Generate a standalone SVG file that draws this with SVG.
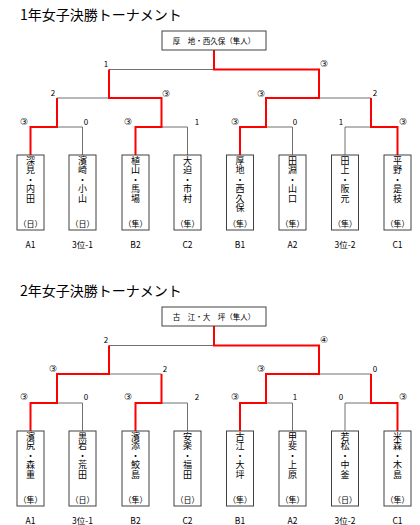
<svg xmlns="http://www.w3.org/2000/svg" width="420" height="525" viewBox="0 0 420 525">
<style>
.t{font-family:"Noto Sans CJK JP","Noto Sans CJK SC",sans-serif;fill:#000}
.title{font-size:14px}
.win{font-size:7.5px;text-anchor:middle}
.v{font-size:9px;writing-mode:vertical-rl;letter-spacing:0.5px}
.pr{font-size:8px;text-anchor:middle}
.sc{font-size:8px;text-anchor:middle}
.c{font-family:"DejaVu Sans","Noto Sans CJK JP",sans-serif;font-size:9px}
.lb{font-size:8.5px;text-anchor:middle}
.g{stroke:#707070;stroke-width:1;fill:none}
.r{stroke:#ff0000;stroke-width:2;fill:none}
.box{fill:#fff;stroke:#404040;stroke-width:1}
</style>
<rect width="420" height="525" fill="#fff"/>
<text class="t title" x="20" y="20">1年女子決勝トーナメント</text>
<text class="t title" x="20" y="296">2年女子決勝トーナメント</text>

<g id="connectors">
  <path class="g" d="M109,69.5H214M57,98H109M319,98H371M57,127H82.5M161.5,127H187.5M266,127H292.5M345,127H371M82.5,127V155M187.5,127V155M292.5,127V155M345,127V155"/>
  <path class="r" d="M214,50V69.5H319V98H266V127H240V155M109,69.5V98H161.5V127H135.5V155M57,98V127H30.5V155M371,98V127H397.5V155"/>
  <path class="g" d="M109,345.5H214M109,374H161.5M319,374H371M57,403H82.5M161.5,403H187.5M266,403H292.5M345,403H371M82.5,403V431M187.5,403V431M292.5,403V431M345,403V431"/>
  <path class="r" d="M214,326V345.5H319V374H266V403H240V431M109,345.5V374H57V403H30.5V431M161.5,374V403H135.5V431M371,374V403H397.5V431"/>
</g>

<g id="scores1">
  <text class="t sc" x="106" y="66.5">1</text>
  <text class="t sc c" x="324" y="67">③</text>
  <text class="t sc" x="53" y="96">2</text>
  <text class="t sc c" x="166" y="96.5">③</text>
  <text class="t sc c" x="261" y="96.5">③</text>
  <text class="t sc" x="375" y="96">2</text>
  <text class="t sc c" x="24" y="125">③</text>
  <text class="t sc" x="86" y="124.5">0</text>
  <text class="t sc c" x="128" y="125">③</text>
  <text class="t sc" x="197" y="124.5">1</text>
  <text class="t sc c" x="235" y="125">③</text>
  <text class="t sc" x="295" y="124.5">0</text>
  <text class="t sc" x="341" y="124.5">1</text>
  <text class="t sc c" x="403" y="125">③</text>
</g>
<g id="scores2">
  <text class="t sc" x="106" y="342.5">2</text>
  <text class="t sc c" x="324" y="343">④</text>
  <text class="t sc c" x="53" y="372">③</text>
  <text class="t sc" x="165" y="371.5">2</text>
  <text class="t sc c" x="261" y="372">③</text>
  <text class="t sc" x="375" y="371.5">0</text>
  <text class="t sc c" x="24" y="400">③</text>
  <text class="t sc" x="86" y="399.5">0</text>
  <text class="t sc c" x="128" y="400">③</text>
  <text class="t sc" x="197" y="399.5">2</text>
  <text class="t sc c" x="235" y="400">③</text>
  <text class="t sc" x="295" y="399.5">1</text>
  <text class="t sc" x="341" y="399.5">0</text>
  <text class="t sc c" x="403" y="400">③</text>
</g>

<g id="champion1">
  <rect class="box" x="162" y="31" width="104" height="19"/>
  <text class="t win" x="214" y="43.5">厚　地・西久保（隼人）</text>
</g>
<g id="champion2">
  <rect class="box" x="162" y="307" width="104" height="19"/>
  <text class="t win" x="214" y="319.5">古　江・大　坪（隼人）</text>
</g>

<g id="n1-A1">
  <rect class="box" x="17" y="155" width="27" height="75"/>
  <text class="t v" x="30.5" y="156">深見・内田</text>
  <text class="t pr" x="30.5" y="226.5">（日）</text>
  <text class="t lb" x="30.5" y="248">A1</text>
</g>
<g id="n1-31">
  <rect class="box" x="69" y="155" width="27" height="75"/>
  <text class="t v" x="82.5" y="156">濱崎・小山</text>
  <text class="t pr" x="82.5" y="226.5">（日）</text>
  <text class="t lb" x="82.5" y="248">3位-1</text>
</g>
<g id="n1-B2">
  <rect class="box" x="122" y="155" width="27" height="75"/>
  <text class="t v" x="135.5" y="156">植山・馬場</text>
  <text class="t pr" x="135.5" y="226.5">（隼）</text>
  <text class="t lb" x="135.5" y="248">B2</text>
</g>
<g id="n1-C2">
  <rect class="box" x="174" y="155" width="27" height="75"/>
  <text class="t v" x="187.5" y="156">大迫・市村</text>
  <text class="t pr" x="187.5" y="226.5">（隼）</text>
  <text class="t lb" x="187.5" y="248">C2</text>
</g>
<g id="n1-B1">
  <rect class="box" x="226.5" y="155" width="27" height="75"/>
  <text class="t v" x="240" y="156">厚地・西久保</text>
  <text class="t pr" x="240" y="226.5">（隼）</text>
  <text class="t lb" x="240" y="248">B1</text>
</g>
<g id="n1-A2">
  <rect class="box" x="279" y="155" width="27" height="75"/>
  <text class="t v" x="292.5" y="156">田淵・山口</text>
  <text class="t pr" x="292.5" y="226.5">（隼）</text>
  <text class="t lb" x="292.5" y="248">A2</text>
</g>
<g id="n1-32">
  <rect class="box" x="331.5" y="155" width="27" height="75"/>
  <text class="t v" x="345" y="156">田上・阪元</text>
  <text class="t pr" x="345" y="226.5">（隼）</text>
  <text class="t lb" x="345" y="248">3位-2</text>
</g>
<g id="n1-C1">
  <rect class="box" x="384" y="155" width="27" height="75"/>
  <text class="t v" x="397.5" y="156">平野・是枝</text>
  <text class="t pr" x="397.5" y="226.5">（隼）</text>
  <text class="t lb" x="397.5" y="248">C1</text>
</g>

<g id="n2-A1">
  <rect class="box" x="17" y="431" width="27" height="75"/>
  <text class="t v" x="30.5" y="432">濱尻・森重</text>
  <text class="t pr" x="30.5" y="502.5">（隼）</text>
  <text class="t lb" x="30.5" y="524">A1</text>
</g>
<g id="n2-31">
  <rect class="box" x="69" y="431" width="27" height="75"/>
  <text class="t v" x="82.5" y="432">黒岩・荒田</text>
  <text class="t pr" x="82.5" y="502.5">（日）</text>
  <text class="t lb" x="82.5" y="524">3位-1</text>
</g>
<g id="n2-B2">
  <rect class="box" x="122" y="431" width="27" height="75"/>
  <text class="t v" x="135.5" y="432">濱添・鮫島</text>
  <text class="t pr" x="135.5" y="502.5">（隼）</text>
  <text class="t lb" x="135.5" y="524">B2</text>
</g>
<g id="n2-C2">
  <rect class="box" x="174" y="431" width="27" height="75"/>
  <text class="t v" x="187.5" y="432">安楽・福田</text>
  <text class="t pr" x="187.5" y="502.5">（日）</text>
  <text class="t lb" x="187.5" y="524">C2</text>
</g>
<g id="n2-B1">
  <rect class="box" x="226.5" y="431" width="27" height="75"/>
  <text class="t v" x="240" y="432">古江・大坪</text>
  <text class="t pr" x="240" y="502.5">（隼）</text>
  <text class="t lb" x="240" y="524">B1</text>
</g>
<g id="n2-A2">
  <rect class="box" x="279" y="431" width="27" height="75"/>
  <text class="t v" x="292.5" y="432">甲斐・上原</text>
  <text class="t pr" x="292.5" y="502.5">（隼）</text>
  <text class="t lb" x="292.5" y="524">A2</text>
</g>
<g id="n2-32">
  <rect class="box" x="331.5" y="431" width="27" height="75"/>
  <text class="t v" x="345" y="432">若松・中釜</text>
  <text class="t pr" x="345" y="502.5">（日）</text>
  <text class="t lb" x="345" y="524">3位-2</text>
</g>
<g id="n2-C1">
  <rect class="box" x="384" y="431" width="27" height="75"/>
  <text class="t v" x="397.5" y="432">米森・木島</text>
  <text class="t pr" x="397.5" y="502.5">（隼）</text>
  <text class="t lb" x="397.5" y="524">C1</text>
</g>
</svg>
